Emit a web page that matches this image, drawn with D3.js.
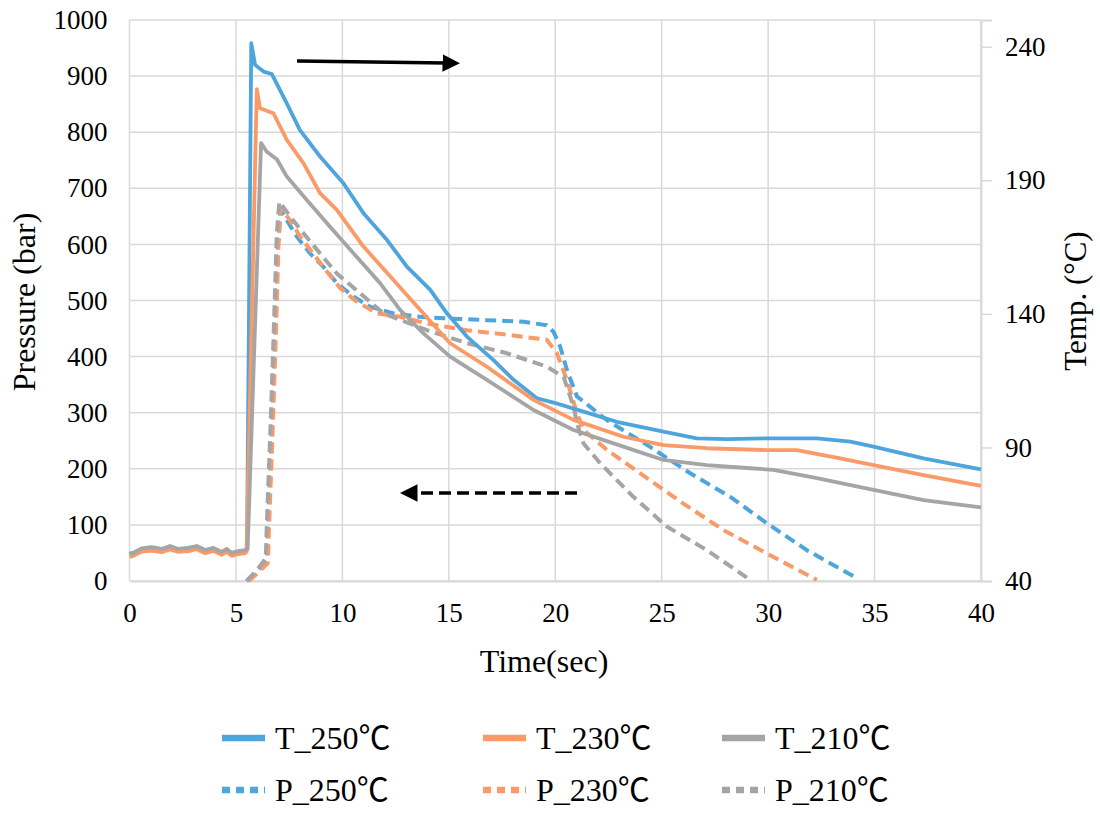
<!DOCTYPE html>
<html>
<head>
<meta charset="utf-8">
<script src="https://cdn.jsdelivr.net/npm/d3@7"></script>
<style>
  body { margin: 0; background: #fff; }
  svg text { font-family: "Liberation Serif", Tinos, "Times New Roman", Times, "DejaVu Serif", serif; fill: #000; }
</style>
</head>
<body>
<script>
// time ticks / axis ticks
var timeTicks = [0, 5, 10, 15, 20, 25, 30, 35, 40];
var pressTicks = [0, 100, 200, 300, 400, 500, 600, 700, 800, 900, 1000];
var tempTicks = [40, 90, 140, 190, 240];

// temperature series, [time (s), temp (°C)] -> right axis
var T250 = [[0,50.0],[0.18,50.6],[0.57,52.0],[1.04,52.5],[1.51,51.8],[1.9,52.9],[2.29,51.8],[2.76,52.2],[3.16,52.9],[3.55,51.4],[3.94,52.2],[4.33,50.7],[4.57,51.8],[4.8,50.3],[5.11,51.0],[5.43,51.4],[5.52,52],[5.72,241.3],[5.9,233.2],[6.3,230.7],[6.68,229.8],[7.39,218.8],[8.0,208.9],[8.95,198.9],[10.05,188.9],[10.99,177.7],[12.09,167.7],[13.03,157.7],[14.13,149.0],[14.91,140.2],[15.85,131.5],[17.1,122.7],[18.04,115.3],[19.14,108.4],[19.92,106.8],[21.33,103.4],[22.89,99.6],[25.08,95.9],[26.65,93.4],[28.06,93.1],[29.94,93.4],[32.29,93.4],[33.86,92.2],[34.95,90.3],[37.3,85.9],[40,81.8]];
var T230 = [[0,49.0],[0.18,49.4],[0.57,51.0],[1.04,51.4],[1.51,50.8],[1.9,51.8],[2.29,50.9],[2.76,51.2],[3.16,51.9],[3.55,50.4],[3.94,51.3],[4.33,49.8],[4.57,50.9],[4.8,49.4],[5.11,50.1],[5.43,50.4],[5.5,51],[5.98,224.1],[6.13,217.0],[6.76,215.1],[7.39,205.1],[8.17,196.4],[8.95,185.2],[9.74,178.9],[10.99,165.2],[12.4,152.7],[13.65,141.5],[15.06,129.0],[16.79,120.2],[18.98,107.8],[20.86,100.3],[23.2,94.0],[25.08,90.9],[27.12,89.7],[29.94,89.0],[31.35,89.0],[33.39,85.9],[34.95,83.4],[37.3,79.6],[40,75.6]];
var T210 = [[0,50.4],[0.18,50.4],[0.57,52.2],[1.04,52.7],[1.51,52.0],[1.9,53.1],[2.29,52.0],[2.76,52.4],[3.16,53.1],[3.55,51.6],[3.94,52.4],[4.33,50.9],[4.57,52.0],[4.8,50.5],[5.11,51.2],[5.43,51.6],[5.55,52],[6.18,203.9],[6.45,200.7],[6.92,197.9],[7.39,191.4],[8.33,182.6],[9.42,172.6],[10.52,162.7],[11.77,151.5],[12.71,141.5],[13.81,132.7],[15.06,124.0],[16.79,115.3],[18.98,104.0],[20.86,96.5],[23.2,90.3],[25.08,85.3],[27.12,83.4],[29.16,82.2],[30.25,81.6],[32.29,78.5],[34.95,74.1],[37.3,70.3],[40,67.6]];

// pressure series, [time (s), pressure (bar)] -> left axis
var P250 = [[5.5,0],[6.0,18],[6.45,37],[6.5,90],[6.68,263],[6.84,442],[6.98,600],[7.1,661],[7.39,643],[7.86,614],[8.48,584],[9.11,560],[9.74,531],[10.52,507],[11.3,489],[12.4,477],[13.65,471],[14.91,468],[16.79,465],[18.51,462],[19.6,456],[19.92,444],[20.23,418],[20.55,376],[21.02,329],[22.42,287],[24.46,239],[26.34,192],[28.22,150],[29.94,103],[31.82,55],[34.17,5]];
var P230 = [[5.6,0],[6.05,15],[6.5,32],[6.55,90],[6.72,263],[6.88,442],[7.0,600],[7.1,665],[7.5,645],[8.0,615],[8.6,585],[9.2,555],[9.9,522],[10.6,500],[11.62,477],[12.71,471],[13.97,459],[15.85,447],[17.73,439],[19.6,430],[20.08,406],[20.55,358],[21.02,299],[21.33,269],[22.42,234],[23.99,192],[26.02,138],[27.9,91],[29.94,49],[32.29,2]];
var P210 = [[5.5,0],[6.0,20],[6.4,40],[6.45,100],[6.62,270],[6.78,450],[6.92,620],[7.04,676],[7.56,649],[8.17,620],[8.95,584],[9.74,548],[10.83,513],[11.93,477],[13.97,447],[15.85,424],[17.73,406],[19.6,382],[20.39,364],[20.86,311],[21.02,281],[21.33,245],[22.11,210],[23.67,150],[25.24,97],[27.12,55],[29.16,2]];

// legend entries
var legendSeries = ["T_250", "T_230", "T_210", "P_250", "P_230", "P_210"];

var blue = "#4ea5dc", orange = "#fa9a68", gray = "#a5a5a5";
var serif = "'Liberation Serif', Tinos, 'Times New Roman', Times, 'DejaVu Serif', serif";

var W = 1100, H = 814;
var margin = {left: 129.5, right: 119, top: 20, bottom: 233};

var svg = d3.select("body").append("svg")
  .attr("width", W)
  .attr("height", H);

var x = d3.scaleLinear().domain([0, 40]).range([margin.left, W - margin.right]);
var yP = d3.scaleLinear().domain([0, 1000]).range([H - margin.bottom, margin.top]);
var yT = d3.scaleLinear().domain([40, 250]).range([H - margin.bottom, margin.top]);

// gridlines
svg.append("g").selectAll("line").data(pressTicks).enter().append("line")
  .attr("x1", x(0)).attr("x2", x(40))
  .attr("y1", function(d){ return yP(d); }).attr("y2", function(d){ return yP(d); })
  .style("stroke", "#d9d9d9").style("stroke-width", 1.5);
svg.append("g").selectAll("line").data(timeTicks).enter().append("line")
  .attr("x1", function(d){ return x(d); }).attr("x2", function(d){ return x(d); })
  .attr("y1", yP(0)).attr("y2", yP(1000))
  .style("stroke", "#d9d9d9").style("stroke-width", 1.5);

// left axis (labels only)
var leftAxis = svg.append("g")
  .attr("transform", "translate(" + x(0) + ",0)")
  .call(d3.axisLeft(yP).tickValues(pressTicks).tickFormat(d3.format("d")).tickSize(0).tickPadding(22));
leftAxis.select(".domain").remove();

// bottom axis
var bottomAxis = svg.append("g")
  .attr("transform", "translate(0," + yP(0) + ")")
  .call(d3.axisBottom(x).tickValues(timeTicks).tickFormat(d3.format("d")).tickSize(0).tickPadding(22));
bottomAxis.select(".domain").style("stroke", "#d9d9d9").style("stroke-width", 2);

// right axis
var rightAxis = svg.append("g")
  .attr("transform", "translate(" + x(40) + ",0)")
  .call(d3.axisRight(yT).tickValues(tempTicks).tickFormat(d3.format("d")).tickSize(11).tickPadding(13));
rightAxis.select(".domain").style("stroke", "#d9d9d9").style("stroke-width", 2);
rightAxis.selectAll(".tick line").style("stroke", "#d9d9d9").style("stroke-width", 1.5);

svg.selectAll("g").attr("font-family", null);
svg.selectAll(".tick text")
  .attr("font-family", serif)
  .style("font-family", serif)
  .style("font-size", "27px")
  .style("fill", "#000");

// axis titles
svg.append("text")
  .attr("transform", "translate(35,302) rotate(-90)")
  .attr("text-anchor", "middle")
  .style("font-family", serif)
  .style("font-size", "32px")
  .text("Pressure (bar)");
svg.append("text")
  .attr("transform", "translate(1086,301) rotate(-90)")
  .attr("text-anchor", "middle")
  .style("font-family", serif)
  .style("font-size", "31px")
  .text("Temp. (°C)");
svg.append("text")
  .attr("x", 544)
  .attr("y", 672)
  .attr("text-anchor", "middle")
  .style("font-family", serif)
  .style("font-size", "32px")
  .text("Time(sec)");

// lines
var lineP = d3.line().x(function(d){ return x(d[0]); }).y(function(d){ return yP(d[1]); });
var lineT = d3.line().x(function(d){ return x(d[0]); }).y(function(d){ return yT(d[1]); });

var pSeries = [{d: P250, c: blue}, {d: P230, c: orange}, {d: P210, c: gray}];
var tSeries = [{d: T250, c: blue}, {d: T230, c: orange}, {d: T210, c: gray}];

svg.append("g").selectAll("path").data(pSeries).enter().append("path")
  .attr("d", function(s){ return lineP(s.d); })
  .style("fill", "none")
  .style("stroke", function(s){ return s.c; })
  .style("stroke-width", 4)
  .style("stroke-dasharray", "11,6")
  .style("stroke-linejoin", "round");

svg.append("g").selectAll("path").data(tSeries).enter().append("path")
  .attr("d", function(s){ return lineT(s.d); })
  .style("fill", "none")
  .style("stroke", function(s){ return s.c; })
  .style("stroke-width", 3.8)
  .style("stroke-linejoin", "round");

// arrows
var defs = svg.append("defs");
defs.append("marker")
  .attr("id", "head")
  .attr("viewBox", "0 0 10 10")
  .attr("refX", 2).attr("refY", 5)
  .attr("markerWidth", 5).attr("markerHeight", 5)
  .attr("orient", "auto")
  .append("path").attr("d", "M0,0 L10,5 L0,10 z").style("fill", "#000");

svg.append("line")
  .attr("x1", 297).attr("y1", 61).attr("x2", 446).attr("y2", 63)
  .style("stroke", "#000").style("stroke-width", 3.5)
  .attr("marker-end", "url(#head)");
svg.append("line")
  .attr("x1", 577).attr("y1", 493).attr("x2", 414).attr("y2", 493)
  .style("stroke", "#000").style("stroke-width", 3.5)
  .style("stroke-dasharray", "12,6")
  .attr("marker-end", "url(#head)");

// legend
var legendColors = [blue, orange, gray, blue, orange, gray];
var legendX = [222, 483, 722];
var legendY = [738, 790];

var leg = svg.append("g").selectAll("g").data(legendSeries).enter().append("g")
  .attr("transform", function(d, i){
    return "translate(" + legendX[i % 3] + "," + legendY[Math.floor(i / 3)] + ")";
  });
leg.append("line")
  .attr("x1", 0).attr("x2", 43).attr("y1", 0).attr("y2", 0)
  .style("stroke", function(d, i){ return legendColors[i]; })
  .style("stroke-width", 6.5)
  .style("stroke-dasharray", function(d, i){ return i < 3 ? null : "8,6"; });
var legText = leg.append("text")
  .attr("x", 53).attr("y", 11)
  .style("font-family", serif)
  .style("font-size", "32px");
legText.append("tspan").text(function(d){ return d; });
legText.append("tspan")
  .style("font-family", "'Noto Sans CJK SC', 'DejaVu Serif', serif")
  .text("℃");
</script>
</body>
</html>
